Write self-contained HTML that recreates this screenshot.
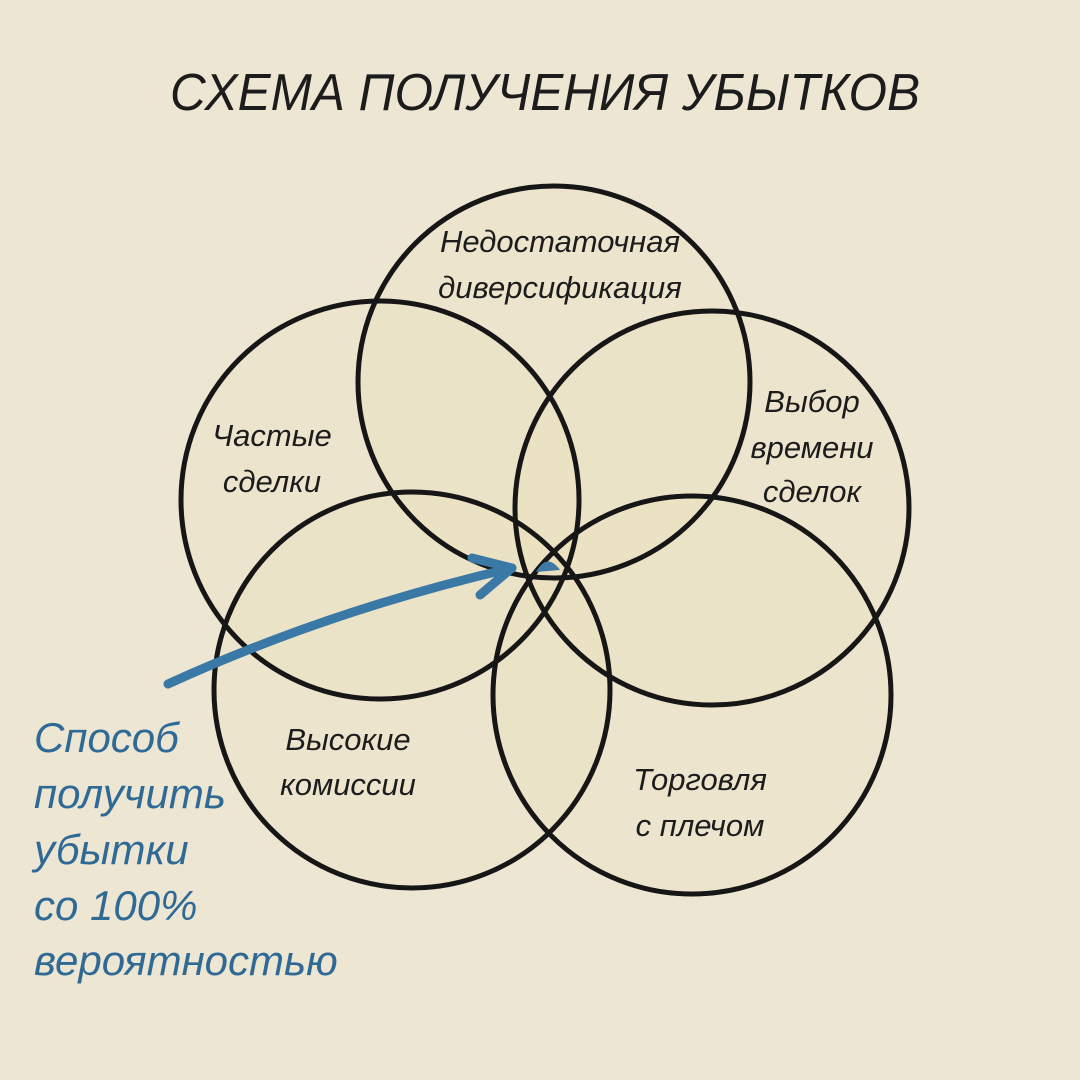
<!DOCTYPE html>
<html><head><meta charset="utf-8"><style>
html,body{margin:0;padding:0;}
body{width:1080px;height:1080px;background:#ede6d3;overflow:hidden;}
svg{display:block;}
text{font-family:"Liberation Sans","DejaVu Sans",sans-serif;font-style:italic;}
</style></head><body>
<svg width="1080" height="1080" viewBox="0 0 1080 1080">
<rect width="1080" height="1080" fill="#ede6d3"/>
<text x="545" y="110" text-anchor="middle" font-size="52" fill="#1c1c1c" textLength="750" lengthAdjust="spacingAndGlyphs">СХЕМА ПОЛУЧЕНИЯ УБЫТКОВ</text>
<g fill="rgba(235,222,175,0.15)" stroke="none">
<circle cx="554" cy="382" r="196"/>
<circle cx="380" cy="500" r="199"/>
<circle cx="712" cy="508" r="197"/>
<circle cx="412" cy="690" r="198"/>
<circle cx="692" cy="695" r="199"/>
</g>
<g fill="none" stroke="#161616" stroke-width="5">
<circle cx="554" cy="382" r="196"/>
<circle cx="380" cy="500" r="199"/>
<circle cx="712" cy="508" r="197"/>
<circle cx="412" cy="690" r="198"/>
<circle cx="692" cy="695" r="199"/>
</g>
<path d="M536,572 Q547,552 560,570 Z" fill="#3f7aa5"/>
<g fill="#1c1c1c" font-size="31">
<text x="560" y="252" text-anchor="middle">Недостаточная</text>
<text x="560" y="298" text-anchor="middle">диверсификация</text>
<text x="272" y="446" text-anchor="middle">Частые</text>
<text x="272" y="492" text-anchor="middle">сделки</text>
<text x="812" y="412" text-anchor="middle">Выбор</text>
<text x="812" y="458" text-anchor="middle">времени</text>
<text x="812" y="502" text-anchor="middle">сделок</text>
<text x="348" y="750" text-anchor="middle">Высокие</text>
<text x="348" y="795" text-anchor="middle">комиссии</text>
<text x="700" y="790" text-anchor="middle">Торговля</text>
<text x="700" y="836" text-anchor="middle">с плечом</text>
</g>
<g stroke="#3a78a6" stroke-width="9" fill="none" stroke-linecap="round" stroke-linejoin="round">
<path d="M168,684 Q330,610 512,568"/>
<path d="M472,558 L512,568 L480,595"/>
</g>
<g fill="#2f6a96" font-size="42">
<text x="34" y="752">Способ</text>
<text x="34" y="808">получить</text>
<text x="34" y="864">убытки</text>
<text x="34" y="920">со 100%</text>
<text x="34" y="975">вероятностью</text>
</g>
</svg>
</body></html>
